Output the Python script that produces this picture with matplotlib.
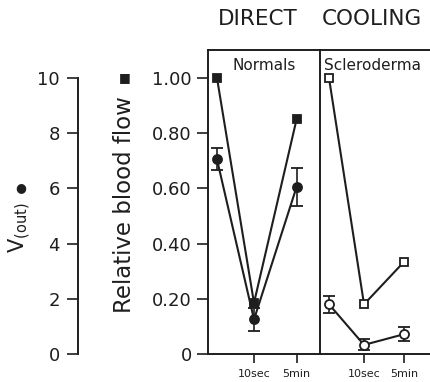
import numpy as np
import matplotlib.pyplot as plt

# values
time_labels = ['', '10sec', '5min']
normal_flow = [1.00, 0.185, 0.85]
normal_vout = [7.05, 1.25, 6.05]
normal_vout_err = [0.4, 0.4, 0.7]
scl_flow = [1.00, 0.18, 0.335]
scl_vout = [1.8, 0.33, 0.72]
scl_vout_err = [0.3, 0.2, 0.25]

flow_ticks = [0, 0.2, 0.4, 0.6, 0.8, 1.0]
flow_ticklabels = ['0', '0.20', '0.40', '0.60', '0.80', '1.00']
vout_ticks = [0, 2, 4, 6, 8, 10]

t_pos = [0, 1, 2.15]
W, H = 431, 382
ink = '#1e1e1e'
ytop = 1.1014

plt.rcParams['font.family'] = 'DejaVu Sans'
plt.rcParams['axes.linewidth'] = 1.4
plt.rcParams['axes.edgecolor'] = ink
plt.rcParams['text.color'] = ink
plt.rcParams['xtick.color'] = ink
plt.rcParams['ytick.color'] = ink


def box(x0, y0, x1, y1):
    return [x0 / W, 1 - y1 / H, (x1 - x0) / W, (y1 - y0) / H]


fig = plt.figure(figsize=(W / 100, H / 100), dpi=100)

ax1 = fig.add_axes(box(208, 50, 320.5, 354))
ax2 = fig.add_axes(box(320.5, 50, 440, 354))
ax1.set_xlim(-0.243, 2.797)
ax2.set_xlim(-0.243, 3.17)

panels = [
    (ax1, 'Normals', normal_flow, normal_vout, normal_vout_err, ink),
    (ax2, 'Scleroderma', scl_flow, scl_vout, scl_vout_err, 'white'),
]

for ax, name, flow, vout, verr, face in panels:
    ax.set_ylim(0, ytop)
    ax.spines['right'].set_visible(False)
    ax.plot(t_pos, flow, color=ink, lw=1.5, marker='s', ms=6,
            mfc=face, mec=ink, mew=1.3, zorder=3)
    ax.set_xticks(t_pos[1:])
    ax.set_xticklabels(time_labels[1:], fontsize=8)
    ax.tick_params(axis='x', direction='out', length=6.5, width=1.2, pad=4)
    ax.text(0.5 if ax is ax1 else 0.03, 0.95, name, transform=ax.transAxes,
            ha='center' if ax is ax1 else 'left', va='center', fontsize=11)

    tw = ax.twinx()
    tw.set_ylim(0, ytop * 10)
    tw.axis('off')
    tw.errorbar(t_pos, vout, yerr=verr, color=ink, lw=1.5, marker='o', ms=6.5,
                mfc=face, mec=ink, mew=1.3, elinewidth=1.2, capsize=4.5,
                capthick=1.2, zorder=3)

ax1.set_yticks(flow_ticks)
ax1.set_yticklabels(flow_ticklabels, fontsize=13)
ax1.tick_params(axis='y', direction='out', length=8, width=1.2, pad=3.6)
ax2.tick_params(axis='y', left=False, labelleft=False)

# V(out) scale
axv = fig.add_axes(box(78, 50, 90, 354))
axv.set_ylim(0, ytop * 10)
axv.set_xticks([])
for s in ['top', 'right', 'bottom']:
    axv.spines[s].set_visible(False)
axv.spines['left'].set_bounds(0, 10)
axv.set_yticks(vout_ticks)
axv.set_yticklabels([str(v) for v in vout_ticks], fontsize=13)
axv.tick_params(axis='y', direction='out', length=8, width=1.2, pad=5)
axv.patch.set_visible(False)

fig.text(20 / W, 1 - 228 / H, r'V$_{\mathregular{(out)}}$', rotation=90,
         ha='center', va='center', fontsize=15)
fig.text(21 / W, 1 - 188 / H, '●', ha='center', va='center', fontsize=9)
fig.text(125 / W, 1 - 205 / H, 'Relative blood flow', rotation=90,
         ha='center', va='center', fontsize=16.5)
fig.text(125 / W, 1 - 78 / H, '■', ha='center', va='center', fontsize=9)

fig.text(218 / W, 1 - 19 / H, 'DIRECT', ha='left', va='center', fontsize=15.5)
fig.text(322 / W, 1 - 19 / H, 'COOLING', ha='left', va='center', fontsize=15.5)

fig.savefig('out.png', dpi=100)
